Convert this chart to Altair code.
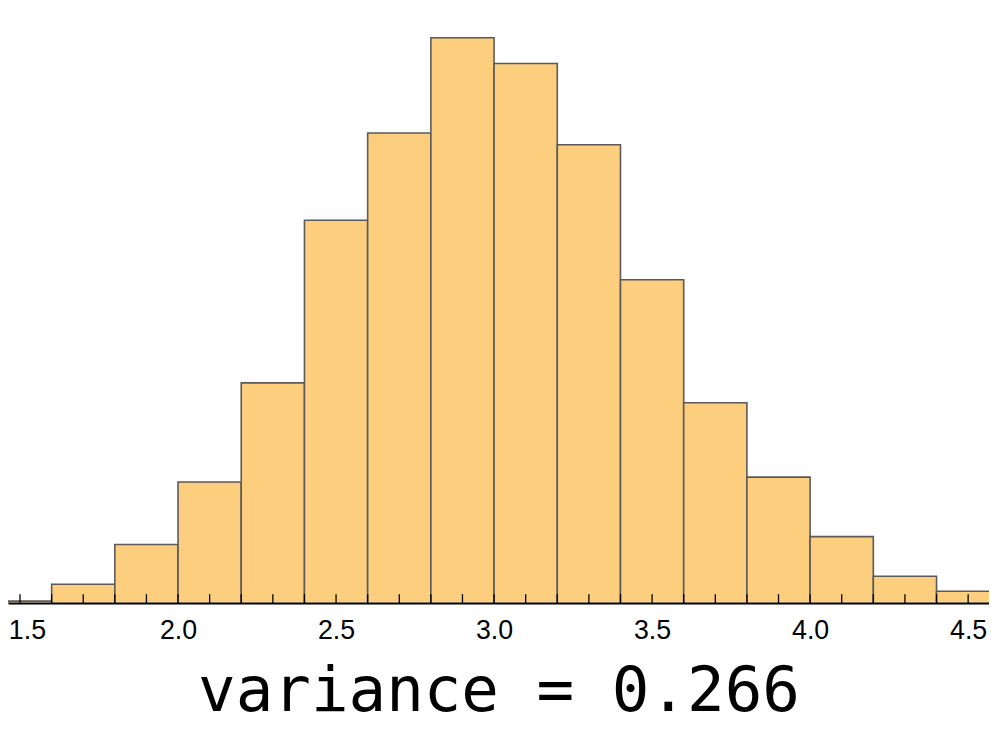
import altair as alt
import pandas as pd

bin_start = [1.4, 1.6, 1.8, 2.0, 2.2, 2.4, 2.6, 2.8, 3.0, 3.2, 3.4, 3.6, 3.8, 4.0, 4.2, 4.4]
bin_width = 0.2
counts = [2, 19, 59, 122, 222, 386, 474, 570, 544, 462, 326, 202, 127, 67, 27, 12]
tick_values = [round(1.5 + 0.1 * i, 1) for i in range(31)]
label_values = [1.5, 2.0, 2.5, 3.0, 3.5, 4.0, 4.5]
title_text = "variance = 0.266"

bars = pd.DataFrame({
    "start": bin_start,
    "end": [round(s + bin_width, 2) for s in bin_start],
    "count": counts,
})
ticks = pd.DataFrame({"t": tick_values})

xscale = alt.Scale(domain=[1.462, 4.566], nice=False, zero=False)
yscale = alt.Scale(domain=[0, 597], nice=False)

W, H = 989, 597

bar_layer = alt.Chart(bars).mark_rect(
    fill="#FCCE7E", stroke="#5a5a5a", strokeWidth=1.6, clip=True
).encode(
    x=alt.X("start:Q", scale=xscale,
            axis=alt.Axis(values=label_values, format=".1f", grid=False, ticks=False,
                          domainColor="black", domainWidth=1.6,
                          labelFont="Liberation Sans", labelFontSize=27, labelColor="black",
                          labelPadding=15, labelFlush=False,
                          labelOffset=alt.expr("datum.value < 1.6 ? 7 : 0"),
                          title=title_text, titleFont="DejaVu Sans Mono", titleFontSize=63,
                          titleFontWeight="normal", titleColor="black", titlePadding=17)),
    x2="end:Q",
    y=alt.Y("count:Q", scale=yscale, axis=None),
    y2=alt.datum(0),
)

tick_layer = alt.Chart(ticks).mark_rule(color="black", strokeWidth=1.3, clip=True).encode(
    x=alt.X("t:Q", scale=xscale),
    y=alt.value(H - 9),
    y2=alt.value(H),
)

chart = alt.layer(bar_layer, tick_layer).properties(
    width=W, height=H,
    autosize=alt.AutoSizeParams(type="none"),
    padding={"left": 0, "top": 0, "right": 0, "bottom": 124},
).configure_view(stroke=None)

chart.save("out.html", embed_options={"renderer": "svg", "actions": False})
